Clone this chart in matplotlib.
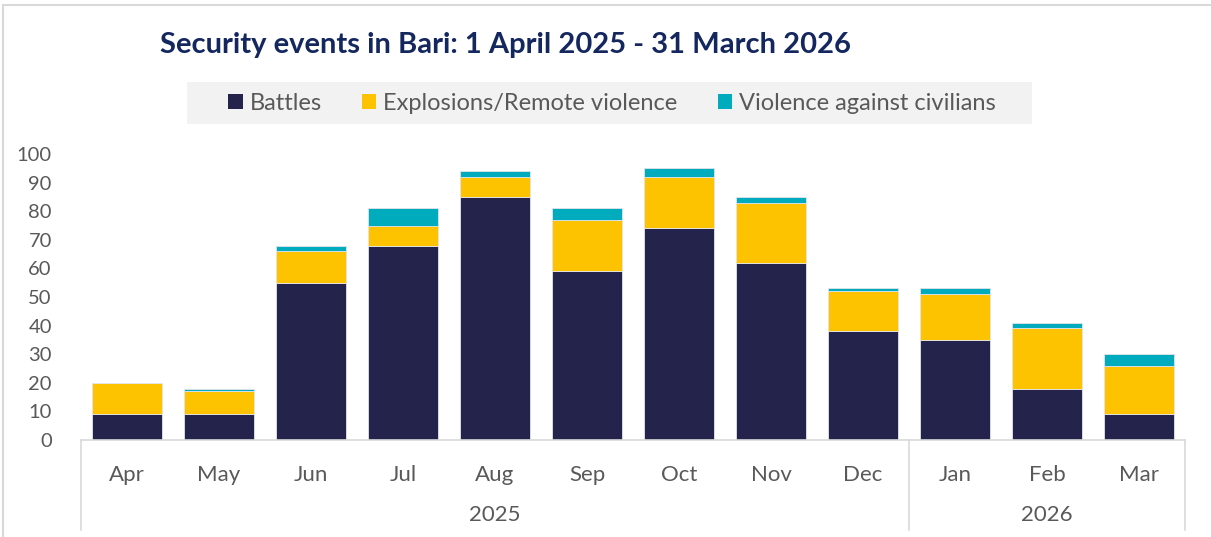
import matplotlib

matplotlib.use("Agg")

import matplotlib.pyplot as plt  # noqa: E402
from matplotlib.patches import Patch, Rectangle  # noqa: E402
from matplotlib.transforms import blended_transform_factory  # noqa: E402

MONTHS = ["Apr", "May", "Jun", "Jul", "Aug", "Sep", "Oct", "Nov", "Dec", "Jan", "Feb", "Mar"]
YEARS = ["2025", "2026"]
YEAR_SPANS = [(0, 8), (9, 11)]

BATTLES = [9, 9, 55, 68, 85, 59, 74, 62, 38, 35, 18, 9]
EXPLOSIONS = [11, 8, 11, 7, 7, 18, 18, 21, 14, 16, 21, 17]
VIOLENCE = [0, 1, 2, 6, 2, 4, 3, 2, 1, 2, 2, 4]

SERIES = ["Battles", "Explosions/Remote violence", "Violence against civilians"]
COLORS = ["#24234c", "#fdc300", "#00abbd"]

TITLE = "Security events in Bari: 1 April 2025 - 31 March 2026"
TEXT_GRAY = "#595959"
LINE_GRAY = "#d9d9d9"

plt.rcParams["font.family"] = ["Lato", "DejaVu Sans"]

W, H = 1211, 537
fig = plt.figure(figsize=(W / 100, H / 100), dpi=100)
ax = fig.add_axes([81 / W, 97 / H, (1185 - 81) / W, (440 - 154) / H])

x = list(range(len(MONTHS)))
bottom = [0] * len(MONTHS)
for vals, color in zip([BATTLES, EXPLOSIONS, VIOLENCE], COLORS, strict=True):
    ax.bar(x, vals, 0.77, bottom=bottom, color=color, edgecolor="#e4e4ea", linewidth=0.6)
    bottom = [b + v for b, v in zip(bottom, vals, strict=True)]

ax.set_xlim(-0.5, len(MONTHS) - 0.5)
ax.set_ylim(0, 100)
ax.set_yticks(range(0, 101, 10))
ax.tick_params(axis="y", length=0, pad=21, labelsize=14.5, labelcolor=TEXT_GRAY)
ax.set_xticks(x)
ax.set_xticklabels(MONTHS)
ax.tick_params(axis="x", length=0, pad=18, labelsize=16, labelcolor=TEXT_GRAY)
for side in ["left", "right", "top"]:
    ax.spines[side].set_visible(False)
ax.spines["bottom"].set_color(LINE_GRAY)
ax.spines["bottom"].set_linewidth(1.2)

# category axis separators and year labels
trans = blended_transform_factory(ax.transData, ax.transAxes)
sep_bottom = -(530 - 440) / (440 - 154)
year_y = -(515 - 440) / (440 - 154)
edges = [-0.5] + [end + 0.5 for _, end in YEAR_SPANS]
for e in edges:
    ax.plot([e, e], [0, sep_bottom], color=LINE_GRAY, lw=1.2, transform=trans, clip_on=False)
for year, (start, end) in zip(YEARS, YEAR_SPANS, strict=True):
    ax.text((start + end) / 2, year_y, year, transform=trans, ha="center", va="center",
            fontsize=16, color=TEXT_GRAY)

# title
fig.text(160 / W, 1 - 45 / H, TITLE, ha="left", va="center", fontsize=21,
         fontweight="bold", color="#14275e")

# legend in gray box
fig.patches.append(Rectangle((187 / W, 1 - 124 / H), (1032 - 187) / W, 42 / H,
                             transform=fig.transFigure, facecolor="#f2f2f2",
                             edgecolor="none", zorder=0))
handles = [Patch(facecolor=c, edgecolor="none") for c in COLORS]
leg = fig.legend(handles, SERIES, loc="center", bbox_to_anchor=(612 / W, 1 - 103 / H),
                 ncol=3, frameon=False, fontsize=17, handlelength=0.6, handleheight=0.6,
                 handletextpad=0.3, columnspacing=1.7, labelcolor=TEXT_GRAY)

# outer frame
fig.patches.append(Rectangle((3 / W, -0.1), 1.2, 1 - 5 / H + 0.1, transform=fig.transFigure,
                             facecolor="none", edgecolor=LINE_GRAY, linewidth=1.5))

fig.savefig("out.png", dpi=100)
